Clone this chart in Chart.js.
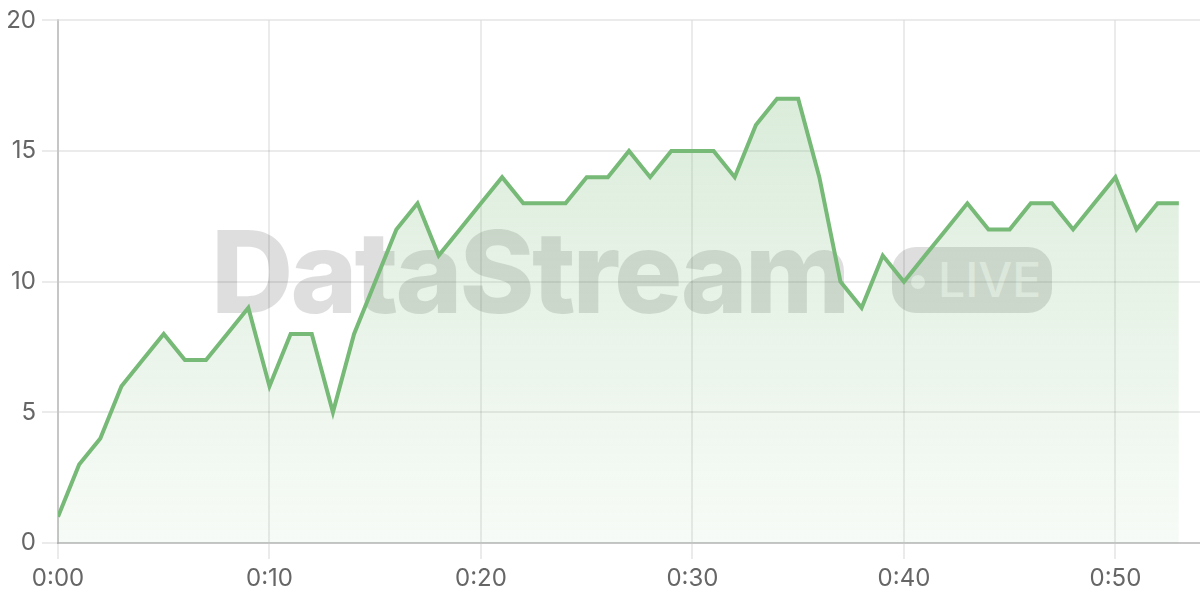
<!DOCTYPE html>
<html>
<head>
<meta charset="utf-8">
<script src="https://cdn.jsdelivr.net/npm/chart.js@4.4.1/dist/chart.umd.min.js"></script>
<style>
  html, body { margin: 0; padding: 0; background: #fff; }
  #wrap { position: relative; width: 1200px; height: 600px; overflow: hidden; }
  #wm { position: absolute; left: 211px; top: 215px; font-family: Inter, sans-serif; font-weight: 800;
        font-size: 114px; line-height: 1; color: rgba(0,0,0,0.13); letter-spacing: -3px; white-space: nowrap; z-index: 0; }
  #badge { position: absolute; left: 892px; top: 247px; width: 160px; height: 66px; border-radius: 24px;
           background: rgba(0,0,0,0.13); z-index: 0; }
  #dot { position: absolute; left: 19px; top: 28px; width: 14px; height: 14px; border-radius: 50%; background: rgba(255,255,255,0.65); }
  #live { position: absolute; left: 46px; top: 8.6px; font-family: Inter, sans-serif; font-weight: 500; font-size: 48px;
          line-height: 1; color: rgba(255,255,255,0.65); white-space: nowrap; }
  canvas { position: absolute; left: 0; top: 0; z-index: 1; }
</style>
</head>
<body>
<div id="wrap">
  <div id="wm">DataStream</div>
  <div id="badge"><div id="dot"></div><div id="live">LIVE</div></div>
  <canvas id="c" width="1200" height="600"></canvas>
</div>
<script>
const minutes = [0,1,2,3,4,5,6,7,8,9,10,11,12,13,14,15,16,17,18,19,20,21,22,23,24,25,26,27,28,29,30,31,32,33,34,35,36,37,38,39,40,41,42,43,44,45,46,47,48,49,50,51,52,53];
const values  = [1,3,4,6,7,8,7,7,8,9,6,8,8,5,8,10,12,13,11,12,13,14,13,13,13,14,14,15,14,15,15,15,14,16,17,17,14,10,9,11,10,11,12,13,12,12,13,13,12,13,14,12,13,13];
const xTickMinutes = [0,10,20,30,40,50];
const yTicks = [0,5,10,15,20];

const lineColor = '#77b977';
const points = minutes.map((m, i) => ({ x: m, y: values[i] }));

const ctx = document.getElementById('c').getContext('2d');
new Chart(ctx, {
  type: 'line',
  data: {
    datasets: [{
      data: points,
      borderColor: lineColor,
      borderWidth: 4,
      pointRadius: 0,
      tension: 0,
      fill: 'origin',
      backgroundColor: (context) => {
        const area = context.chart.chartArea;
        if (!area) return 'rgba(119,185,119,0.15)';
        const g = context.chart.ctx.createLinearGradient(0, area.top, 0, area.bottom);
        g.addColorStop(0, 'rgba(119,185,119,0.30)');
        g.addColorStop(1, 'rgba(119,185,119,0.06)');
        return g;
      }
    }]
  },
  options: {
    responsive: false,
    animation: false,
    devicePixelRatio: 1,
    layout: { padding: { top: 20, right: 0, left: 0, bottom: 0 } },
    plugins: { legend: { display: false }, tooltip: { enabled: false } },
    scales: {
      x: {
        type: 'linear',
        min: 0,
        max: 54,
        afterBuildTicks: (s) => { s.ticks = xTickMinutes.map(v => ({ value: v })); },
        afterFit: (s) => { s.height = 57; },
        ticks: {
          color: '#666',
          font: { family: 'Inter', size: 24 },
          padding: 5,
          maxRotation: 0,
          autoSkip: false,
          callback: (v) => '0:' + String(v).padStart(2, '0')
        },
        grid: { color: 'rgba(0,0,0,0.08)', lineWidth: 2, tickLength: 16 },
        border: { color: 'rgba(0,0,0,0.16)', width: 2 }
      },
      y: {
        min: 0,
        max: 20,
        afterBuildTicks: (s) => { s.ticks = yTicks.map(v => ({ value: v })); },
        afterFit: (s) => { s.width = 58; },
        ticks: {
          color: '#666',
          font: { family: 'Inter', size: 24 },
          padding: 6
        },
        grid: { color: 'rgba(0,0,0,0.08)', lineWidth: 2, tickLength: 16 },
        border: { color: 'rgba(0,0,0,0.16)', width: 2 }
      }
    }
  }
});
</script>
</body>
</html>
